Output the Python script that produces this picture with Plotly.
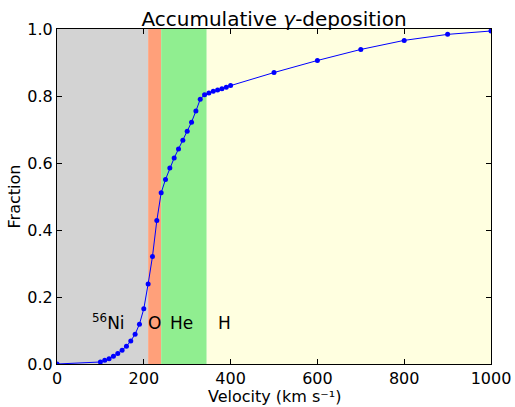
import plotly.graph_objects as go

# Cumulative gamma-ray deposition vs. velocity
velocity = [0, 100, 110, 120, 130, 140, 150, 160, 170, 180, 190, 200, 210, 220, 230,
            240, 250, 260, 270, 280, 290, 300, 310, 320, 330, 340, 350, 360, 370,
            380, 390, 400, 500, 600, 700, 800, 900, 1000]
fraction = [0.0, 0.006, 0.011, 0.016, 0.023, 0.031, 0.041, 0.053, 0.069, 0.089, 0.119,
            0.165, 0.239, 0.321, 0.428, 0.511, 0.551, 0.585, 0.615, 0.642, 0.668,
            0.695, 0.722, 0.755, 0.790, 0.804, 0.809, 0.814, 0.818, 0.822, 0.826,
            0.831, 0.870, 0.906, 0.939, 0.966, 0.984, 0.994]

# Composition zones (velocity edges) and their fills
zone_names = ["<sup>56</sup>Ni", "O", "He", "H"]
zone_start = [0, 210, 240, 345]
zone_end = [210, 240, 345, 1000]
zone_colors = ["lightgray", "lightsalmon", "lightgreen", "lightyellow"]
label_x = [80, 210, 260, 370]
label_y = 0.1

FONT = "DejaVu Sans"

fig = go.Figure()

shapes = []
for x0, x1, c in zip(zone_start, zone_end, zone_colors):
    shapes.append(dict(type="rect", xref="x", yref="y", x0=x0, x1=x1, y0=0, y1=1,
                       fillcolor=c, line=dict(width=0), layer="below"))

fig.add_trace(go.Scatter(
    x=velocity, y=fraction, mode="lines+markers",
    line=dict(color="#0000ff", width=1),
    marker=dict(color="#0000ff", size=5),
    cliponaxis=True, showlegend=False,
))

annotations = []
for name, x in zip(zone_names, label_x):
    annotations.append(dict(x=x, y=label_y, xref="x", yref="y", text=name,
                            showarrow=False, xanchor="left", yanchor="bottom",
                            borderpad=0, xshift=-1, yshift=-3,
                            font=dict(family=FONT, size=17, color="black")))

# x-axis title placed below the tick labels
annotations.append(dict(x=0.5, y=0, xref="paper", yref="paper",
                        text="Velocity (km s⁻¹)", showarrow=False,
                        xanchor="center", yanchor="bottom", borderpad=0, yshift=-43,
                        font=dict(family=FONT, size=16, color="black")))

axis_common = dict(
    showline=True, linecolor="black", linewidth=1, mirror="ticks",
    ticks="inside", ticklen=5, tickcolor="black", tickwidth=1,
    showgrid=False, zeroline=False, automargin=False,
    tickfont=dict(family=FONT, size=16, color="black"),
)

fig.update_layout(
    width=515, height=407,
    margin=dict(l=57, r=24, t=29, b=43),
    paper_bgcolor="white", plot_bgcolor="white",
    shapes=shapes, annotations=annotations,
    title=dict(text="Accumulative <i>γ</i>-deposition", x=0.5, xanchor="center",
               xref="paper", y=1, yref="paper", yanchor="bottom", pad=dict(b=3),
               font=dict(family=FONT, size=20, color="black")),
    xaxis=dict(range=[0, 1000], tickvals=[0, 200, 400, 600, 800, 1000],
               **axis_common),
    yaxis=dict(range=[0, 1], tickvals=[0, 0.2, 0.4, 0.6, 0.8, 1.0], tickformat=".1f",
               title=dict(text="Fraction", standoff=2,
                          font=dict(family=FONT, size=16, color="black")),
               **axis_common),
)

fig.write_html("out.html")
